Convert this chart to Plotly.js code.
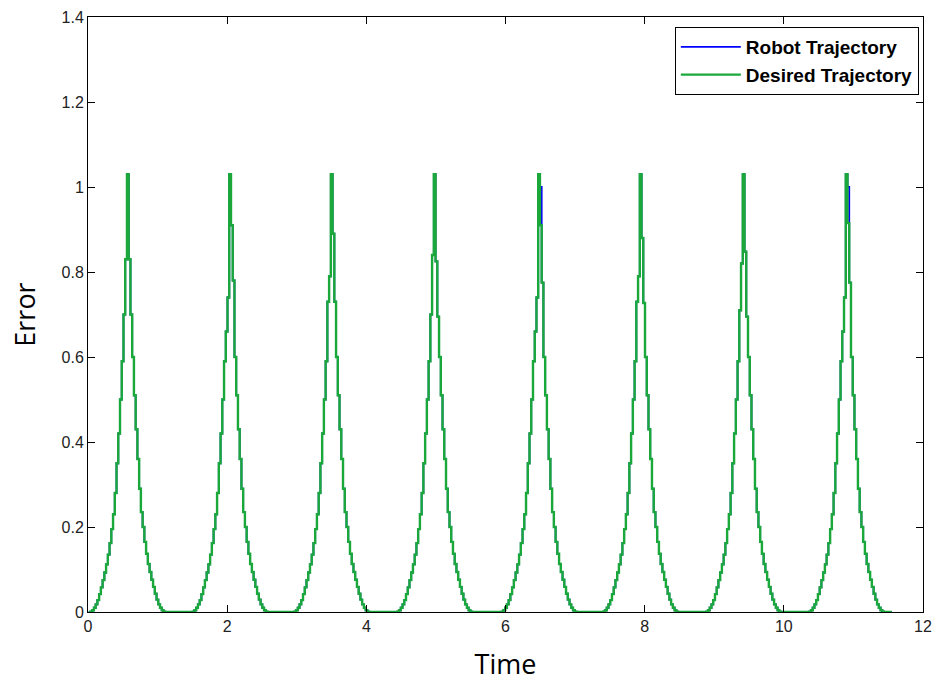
<!DOCTYPE html>
<html>
<head>
<meta charset="utf-8">
<script src="https://cdn.plot.ly/plotly-3.0.1.min.js"></script>
<style>html,body{margin:0;padding:0;background:#fff;}#chart{width:933px;height:684px;}</style>
</head>
<body>
<div id="chart"></div>
<script>
// Peak centre times (s)
const peakCenters = [0.56, 2.03, 3.49, 4.97, 6.47, 7.93, 9.41, 10.89];
// Rising flank values (sampled every 0.025 s, from centre-0.55 to centre-0.075)
const flankUp = [0, 0.001, 0.004, 0.010, 0.018, 0.028, 0.042, 0.058, 0.075, 0.093,
                 0.112, 0.135, 0.162, 0.195, 0.23, 0.28, 0.35, 0.42, 0.50, 0.59];
// Falling flank values (from centre+0.075 to centre+0.55)
const flankDown = [0.60, 0.51, 0.43, 0.36, 0.29, 0.235, 0.20, 0.165, 0.137, 0.113,
                   0.094, 0.076, 0.059, 0.043, 0.029, 0.018, 0.010, 0.004, 0.001, 0];
// Near-top values of each peak (centre-0.05 .. centre+0.05)
const desiredTops = [
  [0.70, 0.83, 1.03, 0.83, 0.70],
  [0.66, 0.74, 1.03, 0.91, 0.78],
  [0.73, 0.79, 1.03, 0.89, 0.73],
  [0.70, 0.84, 1.03, 0.825, 0.695],
  [0.66, 0.74, 1.03, 0.91, 0.775],
  [0.73, 0.79, 1.03, 0.88, 0.727],
  [0.71, 0.82, 1.03, 0.848, 0.695],
  [0.66, 0.74, 1.03, 0.915, 0.775]
];
const robotTops = [
  [0.70, 0.83, 1.03, 0.83, 0.70],
  [0.66, 0.74, 1.03, 0.91, 0.78],
  [0.73, 0.79, 1.03, 0.89, 0.73],
  [0.70, 0.84, 1.03, 0.825, 0.695],
  [0.66, 0.74, 1.03, 1.00, 0.775],
  [0.73, 0.79, 1.03, 0.88, 0.727],
  [0.71, 0.82, 1.03, 0.848, 0.695],
  [0.66, 0.74, 1.03, 1.00, 0.775]
];
const endTime = 11.55;
const xTicks = [0, 2, 4, 6, 8, 10, 12];
const yTicks = [0, 0.2, 0.4, 0.6, 0.8, 1, 1.2, 1.4];
const yTickText = ['0', '0.2', '0.4', '0.6', '0.8', '1', '1.2', '1.4'];

const dt = 0.025;
function buildSeries(tops) {
  const xs = [], ys = [];
  peakCenters.forEach((c, k) => {
    const vals = flankUp.concat(tops[k], flankDown);
    vals.forEach((v, i) => {
      xs.push(+(c - 0.55 + i * dt).toFixed(4));
      ys.push(v);
    });
  });
  xs.push(endTime); ys.push(0);
  return {xs, ys};
}
const robot = buildSeries(robotTops);
const desired = buildSeries(desiredTops);

const traces = [
  {x: robot.xs, y: robot.ys, type: 'scatter', mode: 'lines', name: 'Robot Trajectory',
   line: {color: '#0000ff', width: 1.8, shape: 'hv'}},
  {x: desired.xs, y: desired.ys, type: 'scatter', mode: 'lines', name: 'Desired Trajectory',
   line: {color: '#1aa83a', width: 2.4, shape: 'hv'}}
];

const axisCommon = {
  showline: true, linecolor: '#000', linewidth: 1, mirror: 'allticks',
  ticks: 'inside', ticklen: 7, tickwidth: 1, tickcolor: '#000',
  showgrid: false, zeroline: false,
  tickfont: {family: 'Liberation Sans, Arial, sans-serif', size: 16, color: '#222'}
};

const layout = {
  width: 933, height: 684,
  margin: {l: 88, r: 10, t: 17, b: 72},
  paper_bgcolor: '#fff', plot_bgcolor: '#fff',
  showlegend: true,
  legend: {x: 0.995, y: 0.983, xanchor: 'right', yanchor: 'top',
           bgcolor: '#fff', bordercolor: '#000', borderwidth: 1,
           font: {family: 'Liberation Sans, Arial, sans-serif', size: 19, color: '#000', weight: 'bold'},
           tracegroupgap: 0, itemwidth: 60},
  xaxis: Object.assign({}, axisCommon, {
    range: [0, 12], tickvals: xTicks, ticktext: xTicks.map(String),
    title: {text: 'Time', standoff: 20,
            font: {family: 'Open Sans, sans-serif', size: 27, color: '#000'}}
  }),
  yaxis: Object.assign({}, axisCommon, {
    range: [0, 1.4], tickvals: yTicks, ticktext: yTickText,
    title: {text: 'Error', standoff: 18,
            font: {family: 'Open Sans, sans-serif', size: 27, color: '#000'}}
  })
};

Plotly.newPlot('chart', traces, layout, {displayModeBar: false, staticPlot: true});
</script>
</body>
</html>
